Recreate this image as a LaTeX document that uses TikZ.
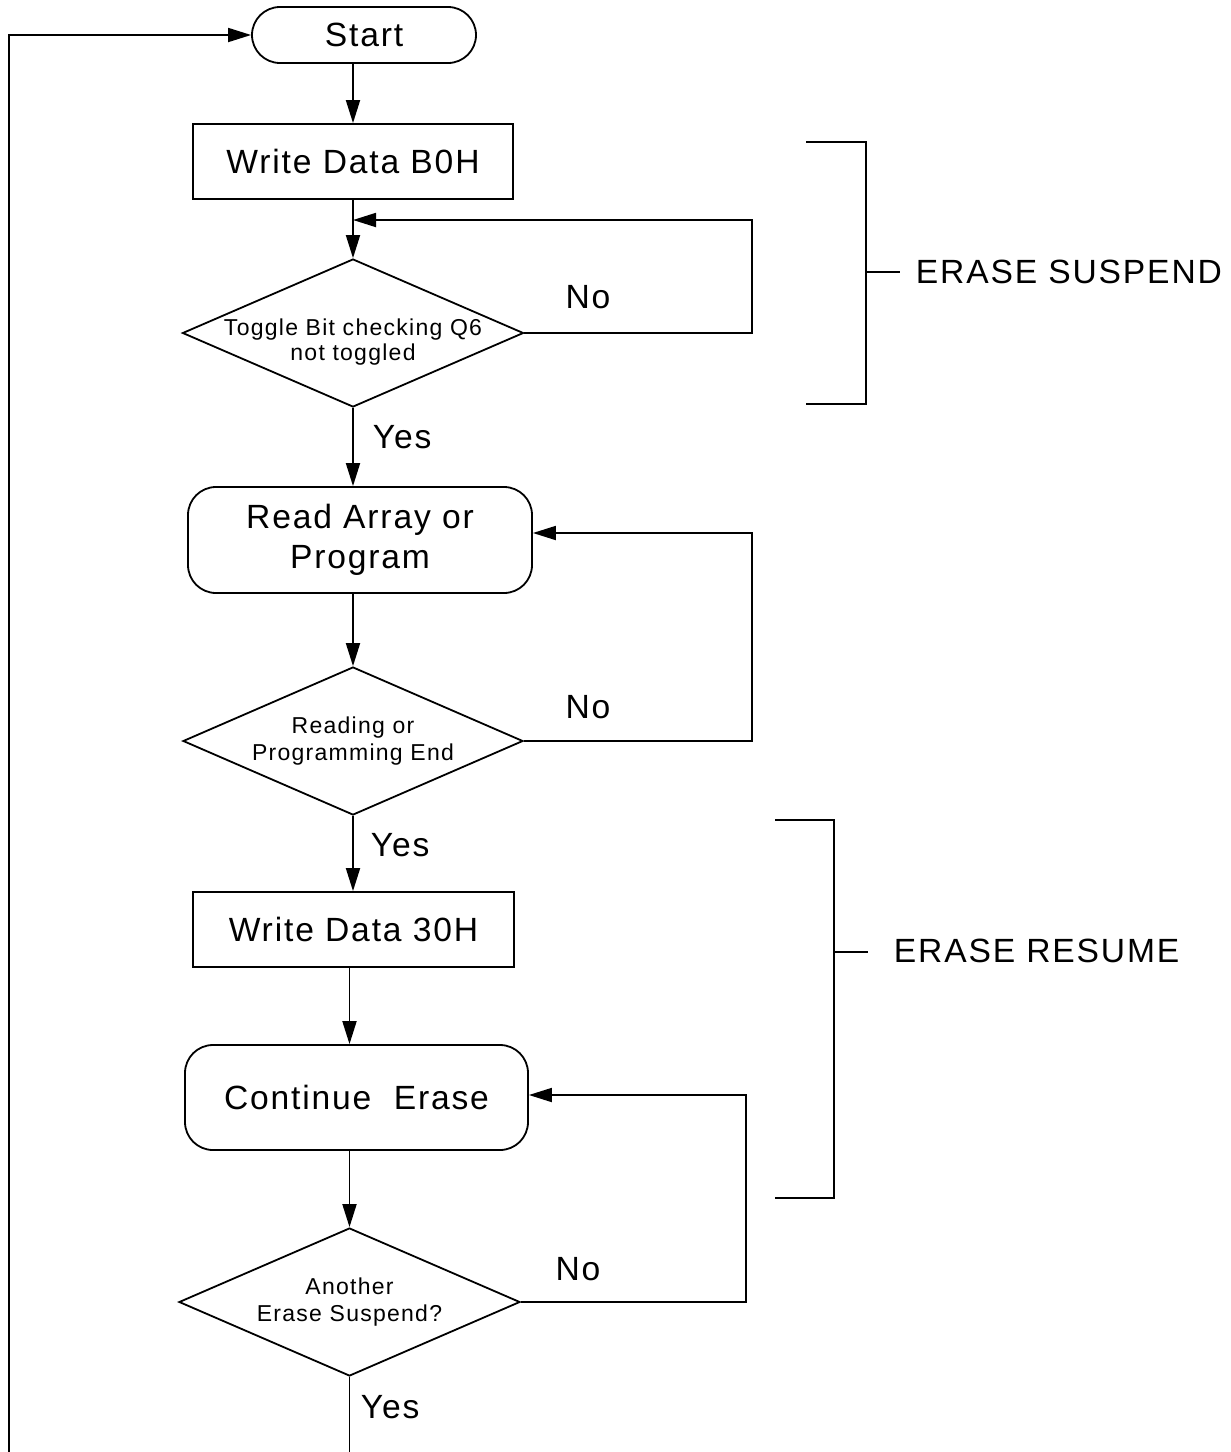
\documentclass[tikz,border=0pt]{standalone}
\usepackage{fontspec}
\setmainfont{Liberation Sans}[LetterSpace=5.5]
\usetikzlibrary{shapes.geometric,arrows.meta}
\begin{document}
\begin{tikzpicture}[x=0.5pt,y=-0.5pt,
  line width=0.9pt,
  arr/.style={-{Triangle[length=11.5pt,width=7pt]}},
  bigtext/.style={font=\fontsize{16.8}{20}\selectfont},
  smalltext/.style={font=\fontsize{11.5}{13.5}\selectfont},
  procbox/.style={draw,rectangle,inner sep=0pt,align=center,bigtext},
  roundbox/.style={draw,rectangle,rounded corners=14pt,inner sep=0pt,align=center,bigtext},
  decision/.style={draw,diamond,aspect=2.3,inner xsep=-30pt,inner ysep=-12pt,align=center,smalltext},
  lbl/.style={inner sep=0pt,bigtext}]
\fill[white] (0,0) rectangle (1231,1452);
\path[use as bounding box] (0,0) rectangle (1231,1452);

% nodes
\node[roundbox,minimum width=112pt,minimum height=28pt] (start) at (364,35) {Start};
\node[procbox,minimum width=160pt,minimum height=37.5pt] (w1) at (353,161.5) {Write Data B0H};
\node[decision,minimum width=170.5pt,minimum height=74pt,inner sep=0pt] (d1) at (353,333)
  {\raisebox{-8pt}[0pt][0pt]{\fontsize{11.5}{12.5}\selectfont\begin{tabular}{@{}c@{}}Toggle Bit checking Q6\\not toggled\end{tabular}}};
\node[roundbox,minimum width=172pt,minimum height=53pt] (r1) at (360,540) {Read Array or\\Program};
\node[decision,minimum width=170pt,minimum height=74pt] (d2) at (353,741) {Reading or\\Programming End};
\node[procbox,minimum width=160.5pt,minimum height=37.5pt] (w2) at (353.5,929.5) {Write Data 30H};
\node[roundbox,minimum width=171.5pt,minimum height=52.5pt] (r2) at (356.5,1097.5) {Continue\ \ Erase};
\node[decision,minimum width=170.5pt,minimum height=74pt] (d3) at (349.5,1302) {Another\\Erase Suspend?};

% labels
\node[lbl,anchor=west] (yes1) at (372,437) {Yes};
\node[lbl,anchor=west] (yes2) at (370,845) {Yes};
\node[lbl,anchor=west] (yes3) at (360,1407) {Yes};
\node[lbl] (no1) at (588,297) {No};
\node[lbl] (no2) at (588,707) {No};
\node[lbl] (no3) at (578,1269) {No};
\node[lbl,anchor=west] (es) at (915,272) {ERASE SUSPEND};
\node[lbl,anchor=west] (er) at (893,951) {ERASE RESUME};

% main flow
\draw[arr] (start.south -| w1.north) -- (w1.north);
\draw[arr] (w1.south) -- (d1.north);
\draw[arr] (d1.south) -- (d1.south |- r1.north);
\draw[arr] (r1.south -| d2.north) -- (d2.north);
\draw[arr] (d2.south) -- (d2.south |- w2.north);
\draw[arr] (w2.south -| d3.north) -- (r2.north -| d3.north);
\draw[arr] (r2.south -| d3.north) -- (d3.north);

% loops
\coordinate (c1) at (752,220);
\draw[arr] (d1.east) -| (c1) -- (c1 -| w1.south);
\coordinate (c2) at (752,533);
\draw[arr] (d2.east) -| (c2) -- (c2 -| r1.east);
\coordinate (c3) at (746,1095);
\draw[arr] (d3.east) -| (c3) -- (c3 -| r2.east);

% return path
\coordinate (bend) at (350,1452);
\draw (d3.south) -- (d3.south |- bend);
\coordinate (lbot) at (9,1452);
\draw[arr] (lbot) |- (start.west);

% brackets
\coordinate (b1t) at (806,142);
\coordinate (b1b) at (806,404);
\coordinate (b1m) at (866,272);
\draw (b1t) -- (866,142) -- (866,404) -- (b1b);
\draw (b1m) -- (900,272);
\coordinate (b2t) at (775,820);
\coordinate (b2b) at (775,1198);
\coordinate (b2m) at (834,952);
\draw (b2t) -- (834,820) -- (834,1198) -- (b2b);
\draw (b2m) -- (868,952);
\end{tikzpicture}
\end{document}
